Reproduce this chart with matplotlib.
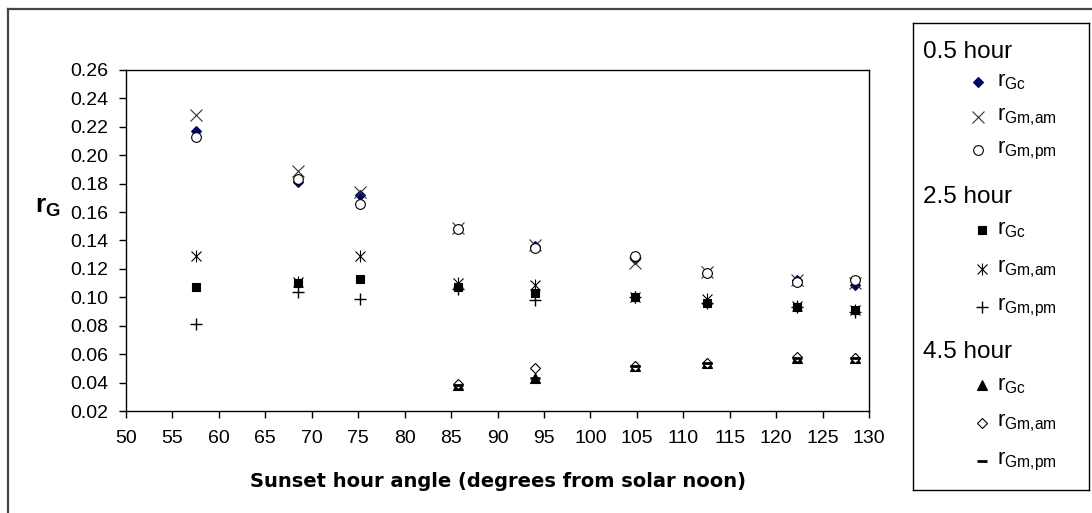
import matplotlib
matplotlib.use('Agg')
import matplotlib.pyplot as plt
from matplotlib.lines import Line2D

plt.rcParams['font.family'] = ['Liberation Sans', 'DejaVu Sans']
plt.rcParams['mathtext.fontset'] = 'custom'
plt.rcParams['mathtext.rm'] = 'Liberation Sans'
plt.rcParams['mathtext.bf'] = 'Liberation Sans:bold'

# sunset hour angle (degrees from solar noon)
angle = [57.5, 68.5, 75.2, 85.8, 94.0, 104.8, 112.6, 122.3, 128.5]
angle_45 = [85.8, 94.0, 104.8, 112.6, 122.3, 128.5]

# 0.5 hour
rgc_05 = [0.217, 0.181, 0.172, 0.148, 0.136, 0.127, 0.117, 0.112, 0.109]
rgm_am_05 = [0.228, 0.189, 0.174, 0.149, 0.137, 0.124, 0.118, 0.112, 0.110]
rgm_pm_05 = [0.213, 0.183, 0.166, 0.148, 0.135, 0.129, 0.117, 0.111, 0.112]

# 2.5 hour
rgc_25 = [0.107, 0.110, 0.113, 0.107, 0.103, 0.100, 0.096, 0.093, 0.091]
rgm_am_25 = [0.129, 0.111, 0.129, 0.110, 0.109, 0.100, 0.099, 0.094, 0.091]
rgm_pm_25 = [0.081, 0.104, 0.099, 0.106, 0.098, 0.100, 0.096, 0.093, 0.090]

# 4.5 hour
rgc_45 = [0.038, 0.043, 0.052, 0.054, 0.057, 0.057]
rgm_am_45 = [0.039, 0.050, 0.052, 0.054, 0.058, 0.057]
rgm_pm_45 = [0.038, 0.043, 0.052, 0.054, 0.057, 0.057]

groups = ['0.5 hour', '2.5 hour', '4.5 hour']
sub_labels = ['Gc', 'Gm{,}am', 'Gm{,}pm']

# marker styles: (marker, size, facecolor, edgecolor, edge width)
styles = [
    [('D', 5, '#000066', '#000066', 0.8), ('x', 8, 'none', '#333333', 0.8), ('o', 7, 'white', 'black', 0.8)],
    [('s', 6, 'black', 'black', 0.8), ('*', 0, 'none', 'black', 0.8), ('+', 9, 'none', 'black', 1.0)],
    [('^', 7, 'black', 'black', 0.8), ('D', 5, 'white', 'black', 0.8), ('_', 7, 'none', 'black', 2.0)],
]

series = [
    (angle, [rgc_05, rgm_am_05, rgm_pm_05]),
    (angle, [rgc_25, rgm_am_25, rgm_pm_25]),
    (angle_45, [rgc_45, rgm_am_45, rgm_pm_45]),
]

fig = plt.figure(figsize=(10.92, 5.13), dpi=100)
W, H = 1092, 513

# outer chart frame (cropped on right and bottom)
fig.add_artist(Line2D([8 / W, 8 / W], [0, 1 - 9 / H], color='#444444', lw=1.6))
fig.add_artist(Line2D([8 / W, 1], [1 - 9 / H, 1 - 9 / H], color='#444444', lw=1.6))

ax = fig.add_axes([126 / W, 1 - 411 / H, (869 - 126) / W, (411 - 70) / H])


def draw_marker(a, x, y, st, **kw):
    m, ms, fc, ec, lw = st
    if m == '*':
        # asterisk: x cross plus a vertical bar
        a.plot(x, y, ls='none', marker='x', ms=7, mec=ec, mew=lw, **kw)
        a.plot(x, y, ls='none', marker='|', ms=9, mec=ec, mew=lw, **kw)
    else:
        a.plot(x, y, ls='none', marker=m, ms=ms, mfc=fc, mec=ec, mew=lw, **kw)


for gi, (xs, ys_list) in enumerate(series):
    for si, ys in enumerate(ys_list):
        draw_marker(ax, xs, ys, styles[gi][si], clip_on=False)

ax.set_xlim(50, 130)
ax.set_ylim(0.02, 0.26)
ax.set_xticks(range(50, 131, 5))
ax.set_yticks([0.02 * i for i in range(1, 14)])
ax.set_yticklabels(['%.2f' % (0.02 * i) for i in range(1, 14)])
ax.tick_params(direction='out', length=5, width=1, labelsize=14, colors='black')
ax.tick_params(axis='x', pad=9)
ax.tick_params(axis='y', pad=8)
for sp in ax.spines.values():
    sp.set_linewidth(1)
ax.set_xlabel('Sunset hour angle (degrees from solar noon)', fontsize=14,
              fontweight='bold', family='DejaVu Sans')
ax.xaxis.set_label_coords(0.5, -0.18)

fig.text(35 / W, 1 - 207 / H, r'$\mathbf{r}_{\mathbf{G}}$', fontsize=19,
         ha='left', va='center')

# legend box
lg = fig.add_axes([913 / W, 1 - 490 / H, (1089 - 913) / W, (490 - 23) / H])
lg.set_xlim(0, 176)
lg.set_ylim(467, 0)
lg.set_xticks([])
lg.set_yticks([])
for sp in lg.spines.values():
    sp.set_linewidth(1)

header_y = [29, 174, 329]
entry_y = [[59, 94, 127], [207, 246, 284], [362, 400, 438]]
marker_x = [65, 69, 69]
for gi, name in enumerate(groups):
    lg.text(10, header_y[gi], name, fontsize=17.5, ha='left', va='center')
    for si, sub in enumerate(sub_labels):
        y = entry_y[gi][si]
        draw_marker(lg, [marker_x[gi]], [y], styles[gi][si])
        lg.text(84, y, r'$\mathregular{r_{%s}}$' % sub, fontsize=16,
                ha='left', va='center')

fig.savefig('out.png', dpi=100)
